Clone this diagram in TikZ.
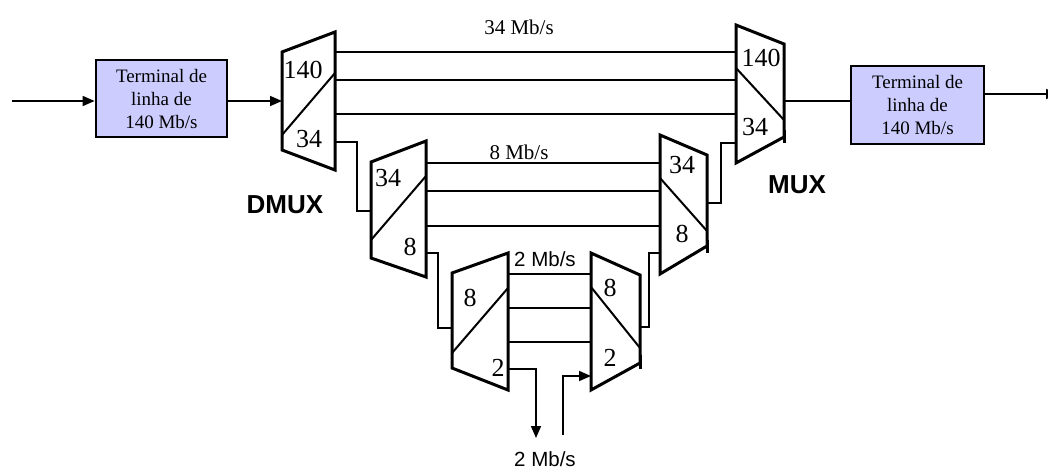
\documentclass[tikz,border=0pt]{standalone}
\usepackage{fontspec}
\setmainfont{Liberation Serif}
\setsansfont{Liberation Sans}
\usetikzlibrary{arrows.meta,calc}
\definecolor{boxfill}{RGB}{204,204,255}
\tikzset{
  muxshape/.style={line width=3pt, line join=miter},
  diag/.style={line width=2pt},
  wire/.style={line width=1.6pt},
  arr/.style={wire, -{Triangle[length=12pt,width=10pt]}},
  tbox/.style={draw, line width=2.8pt, fill=boxfill, minimum width=131pt, minimum height=77pt, align=center, inner sep=0pt, font=\fontsize{19}{23}\selectfont},
  num/.style={font=\fontsize{26}{26}\selectfont, inner sep=0pt},
  rate/.style={font=\fontsize{21}{21}\selectfont, inner sep=0pt},
  srate/.style={font=\sffamily\fontsize{20.5}{20.5}\selectfont, inner sep=0pt},
  title/.style={font=\sffamily\bfseries\fontsize{26}{26}\selectfont, inner sep=0pt}
}
\begin{document}
\begin{tikzpicture}[x=1pt,y=-1pt]
\clip (0,0) rectangle (1048,471);
\fill[white] (0,0) rectangle (1048,471);

% terminal boxes
\node[tbox] (t1) at (161.5,98.5) {Terminal de\\linha de\\140 Mb/s};
\node[tbox, minimum width=133pt, minimum height=78pt] (t2) at (917.5,105) {Terminal de\\linha de\\140 Mb/s};

% DMUX 1
\draw[muxshape] (282,52) -- (335,32) -- (335,170) -- (282,150) -- cycle;
\draw[diag] (282,135) -- (335,73);
% MUX 1
\draw[muxshape] (736,25) -- (784,44) -- (784,137) -- (736,163) -- cycle;
\draw[muxshape] (784,130) -- (784,143);
\draw[diag] (736,68) -- (784,120);
% DMUX 2
\draw[muxshape] (371,162) -- (426,141) -- (426,277) -- (371,258) -- cycle;
\draw[diag] (371,240) -- (426,176);
% MUX 2
\draw[muxshape] (660,135) -- (707,155) -- (707,246) -- (660,274) -- cycle;
\draw[muxshape] (707,240) -- (707,253);
\draw[diag] (660,178) -- (707,231);
% DMUX 3
\draw[muxshape] (452,273) -- (508,253) -- (508,390) -- (452,368) -- cycle;
\draw[diag] (452,353) -- (508,288);
% MUX 3
\draw[muxshape] (591,253) -- (640,275) -- (640,363) -- (591,390) -- cycle;
\draw[muxshape] (640,355) -- (640,369);
\draw[diag] (591,287) -- (640,348);

% ports
\coordinate (in) at (12,101);
\coordinate (d1in) at (282,101);
\coordinate (d1o1) at (335,52);
\coordinate (d1o2) at (335,80);
\coordinate (d1o3) at (335,114);
\coordinate (d1o4) at (335,142);
\coordinate (m1i1) at (736,52);
\coordinate (m1i2) at (736,80);
\coordinate (m1i3) at (736,114);
\coordinate (m1i4) at (736,143);
\coordinate (m1out) at (784,101);
\coordinate (out) at (1058,94);
\coordinate (d2in) at (371,211);
\coordinate (d2o1) at (426,163);
\coordinate (d2o2) at (426,191);
\coordinate (d2o3) at (426,226);
\coordinate (d2o4) at (426,253);
\coordinate (m2i1) at (660,163);
\coordinate (m2i2) at (660,191);
\coordinate (m2i3) at (660,226);
\coordinate (m2i4) at (660,253);
\coordinate (m2out) at (707,203);
\coordinate (d3in) at (452,328);
\coordinate (d3o1) at (508,274);
\coordinate (d3o2) at (508,308);
\coordinate (d3o3) at (508,342);
\coordinate (d3o4) at (508,369);
\coordinate (m3i1) at (591,274);
\coordinate (m3i2) at (591,308);
\coordinate (m3i3) at (591,342);
\coordinate (m3i4) at (591,376);
\coordinate (m3out) at (640,327);
\coordinate (drop) at (536,438);
\coordinate (add) at (563,435);

% connectors
\draw[arr] (in) -- (in -| t1.west);
\draw[arr] (d1in -| t1.east) -- (d1in);
\draw[wire] (d1o1) -- (m1i1);
\draw[wire] (d1o2) -- (m1i2);
\draw[wire] (d1o3) -- (m1i3);
\draw[wire] (d1o4) -- ++(22,0) |- (d2in);
\draw[wire] (d2o1) -- (m2i1);
\draw[wire] (d2o2) -- (m2i2);
\draw[wire] (d2o3) -- (m2i3);
\draw[wire] (d2o4) -- ++(12,0) |- (d3in);
\draw[wire] (d3o1) -- (m3i1);
\draw[wire] (d3o2) -- (m3i2);
\draw[wire] (d3o3) -- (m3i3);
\draw[arr] (d3o4) -| (drop);
\draw[arr] (add) |- (m3i4);
\draw[wire] (m3out) -- ++(9,0) |- (m2i4);
\draw[wire] (m2out) -- ++(14,0) |- (m1i4);
\draw[wire] (m1out) -- (m1out -| t2.west);
\draw[arr] (out -| t2.east) -- (out);

% numbers
\node[num] (n1a) at (303,70) {140};
\node[num] (n1b) at (309,139) {34};
\node[num] (n2a) at (761,58) {140};
\node[num] (n2b) at (755,127) {34};
\node[num] (n3a) at (388,178) {34};
\node[num] (n3b) at (410,247) {8};
\node[num] (n4a) at (682,165) {34};
\node[num] (n4b) at (682,234) {8};
\node[num] (n5a) at (470,298) {8};
\node[num] (n5b) at (498,368) {2};
\node[num] (n6a) at (610,288) {8};
\node[num] (n6b) at (610,358) {2};

% labels
\node[rate] (r34) at (519,27) {34 Mb/s};
\node[rate] (r8) at (519,152) {8 Mb/s};
\node[srate] (r2t) at (545,259) {2 Mb/s};
\node[srate, anchor=base] (r2b) at (545,466) {2 Mb/s};
\node[title] (ldmux) at (285,205) {DMUX};
\node[title] (lmux) at (797,185) {MUX};
\end{tikzpicture}
\end{document}
